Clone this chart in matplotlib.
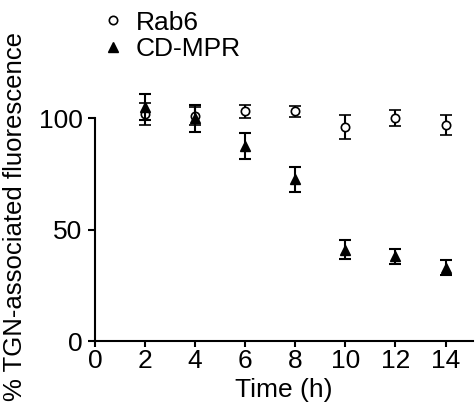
import matplotlib.pyplot as plt
import numpy as np

plt.rcParams['font.family'] = ['Liberation Sans', 'DejaVu Sans']

time_h = [2, 4, 6, 8, 10, 12, 14]
rab6 = [102, 101, 103, 103, 96, 100, 97]
rab6_err = [5, 4, 3, 2.5, 5.5, 3.5, 4.5]
cdmpr = [105, 100, 87.5, 72.5, 41, 38, 33]
cdmpr_err = [6, 6, 6, 5.5, 4.3, 3.4, 3.5]

fig = plt.figure(figsize=(4.75, 4.16), dpi=100)
ax = fig.add_axes([0.2, 0.18, 0.796, 0.536])

ax.errorbar(time_h, rab6, rab6_err, marker='o', linestyle='none', color='black',
            mfc='white', mec='black', ms=6, mew=1.2, capsize=4, elinewidth=1.5,
            capthick=1.5, label='Rab6', clip_on=False, zorder=3)
ax.errorbar(time_h, cdmpr, cdmpr_err, marker='^', linestyle='none', color='black',
            ms=7.5, capsize=4.5, elinewidth=1.5, capthick=1.5,
            label='CD-MPR', clip_on=False, zorder=4)

ax.set_xlim(0, 15.1)
ax.set_ylim(0, 100)
ax.set_xticks([0, 2, 4, 6, 8, 10, 12, 14])
ax.set_yticks([0, 50, 100])
ax.spines['top'].set_visible(False)
ax.spines['right'].set_visible(False)
for s in ['left', 'bottom']:
    ax.spines[s].set_linewidth(1.5)
ax.tick_params(width=1.5, length=5, labelsize=19)
ax.tick_params(axis='y', pad=4)
ax.tick_params(axis='x', pad=1, length=4.5)
ax.set_xlabel('Time (h)', fontsize=19)
ax.xaxis.set_label_coords(0.5, -0.165)
ax.set_ylabel('% TGN-associated fluorescence', fontsize=18.5)
ax.yaxis.set_label_coords(-0.18, 0.56)

handles, labels = ax.get_legend_handles_labels()
handles = [h[0] for h in handles]
fig.legend(handles, labels, loc='upper left', bbox_to_anchor=(0.194, 1.0),
           frameon=False, fontsize=19, handlelength=0.8, handletextpad=0.44,
           labelspacing=0.1, borderaxespad=0)

fig.savefig('out.png', dpi=100)
